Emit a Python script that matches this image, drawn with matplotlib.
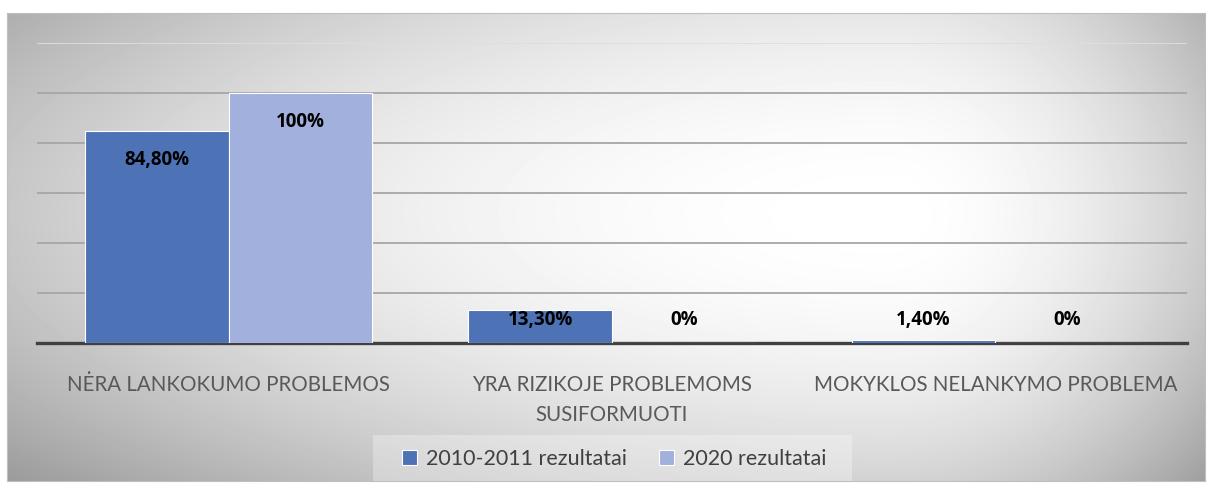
import numpy as np
import matplotlib.pyplot as plt
from matplotlib.patches import Rectangle

categories = ["NĖRA LANKOKUMO PROBLEMOS", "YRA RIZIKOJE PROBLEMOMS\nSUSIFORMUOTI", "MOKYKLOS NELANKYMO PROBLEMA"]
series_names = ["2010-2011 rezultatai", "2020 rezultatai"]
values_2010 = [84.8, 13.3, 1.4]
values_2020 = [100, 0, 0]
labels_2010 = ["84,80%", "13,30%", "1,40%"]
labels_2020 = ["100%", "0%", "0%"]

colors = ["#4e72b6", "#a1b0dc"]
font = ["Lato", "DejaVu Sans"]
bold_font = ["Open Sans", "DejaVu Sans"]

W, H = 1213, 488
fig = plt.figure(figsize=(W / 100, H / 100), dpi=100)

# chart area with radial grey -> white gradient
bg = fig.add_axes([7 / W, 1 - 481 / H, 1198 / W, 468 / H])
yy, xx = np.mgrid[0:468, 0:1198]
cx, cy = 880, 200
dx = np.where(xx < cx, (xx - cx) / 880, (xx - cx) / 330)
dy = (yy - cy) / 300
t = np.clip(np.hypot(dx, dy), 0, 1.4)
shade = 1 - 0.22 * t ** 2
bg.imshow(shade, cmap="gray", vmin=0, vmax=1, aspect="auto", extent=[0, 1, 0, 1])
bg.set_xticks([])
bg.set_yticks([])
for s in bg.spines.values():
    s.set_color("#bfbfbf")

ax = fig.add_axes([37 / W, 1 - 343 / H, 1150 / W, 300 / H])
ax.patch.set_alpha(0)
x = np.arange(len(categories))
w = 0.375
b1 = ax.bar(x - w / 2, values_2010, w, color=colors[0], edgecolor="white", linewidth=0.8,
            label=series_names[0], zorder=3)
b2 = ax.bar(x + w / 2, values_2020, w, color=colors[1], edgecolor="white", linewidth=0.8,
            label=series_names[1], zorder=3)

for xs, vals, labs in [(x - w / 2, values_2010, labels_2010), (x + w / 2, values_2020, labels_2020)]:
    for xi, v, lab in zip(xs, vals, labs):
        ax.text(xi, max(v - 11.6, 9.2), lab, ha="center", va="center", fontsize=13.5,
                fontweight="bold", family=bold_font, color="black", zorder=4)

ax.set_xlim(-0.5, 2.5)
ax.set_ylim(0, 120)
ax.set_yticks(np.arange(20, 121, 20))
ax.grid(axis="y", color="#a6a6a6", linewidth=1.3, zorder=0)
ax.get_ygridlines()[-1].set_color("#dedede")
ax.tick_params(axis="y", length=0, labelleft=False)
ax.tick_params(axis="x", length=0, pad=23)
ax.set_xticks(x)
ax.set_xticklabels(categories, fontsize=14.8, family=font, color="#595959", va="top",
                   linespacing=1.6)
for s in ["top", "left", "right"]:
    ax.spines[s].set_visible(False)
ax.spines["bottom"].set_color("#404040")
ax.spines["bottom"].set_linewidth(2.4)
ax.spines["bottom"].set_zorder(2)

# legend box
fig.patches.append(Rectangle((373 / W, 1 - 481 / H), 479 / W, 46 / H, transform=fig.transFigure,
                             facecolor="white", alpha=0.3, edgecolor="none"))
leg = fig.legend(handles=[b1, b2], loc="center", bbox_to_anchor=(614 / W, 1 - 459 / H),
                 ncol=2, frameon=False, handlelength=0.7, handleheight=0.7, handletextpad=0.4,
                 columnspacing=1.5, prop={"family": font, "size": 15.5})
for txt in leg.get_texts():
    txt.set_color("#404040")

fig.savefig("out.png", dpi=100)
